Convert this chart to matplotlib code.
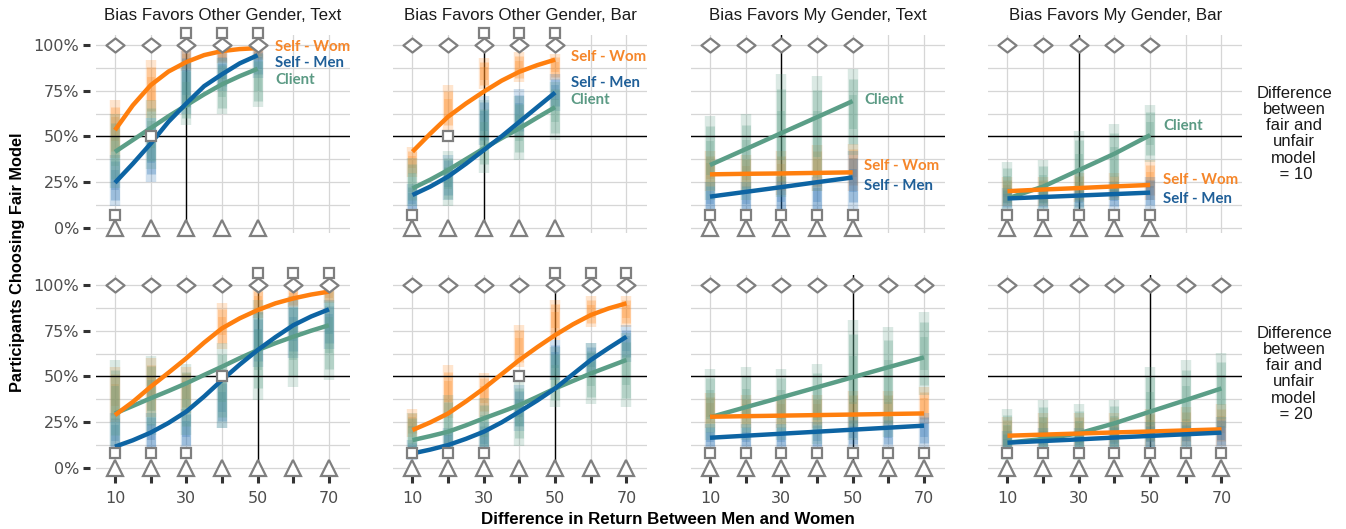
import matplotlib
matplotlib.use("Agg")
import matplotlib.pyplot as plt
from matplotlib.path import Path

# ---------------- data ----------------
PANEL_TITLES = ["Bias Favors Other Gender, Text", "Bias Favors Other Gender, Bar",
                "Bias Favors My Gender, Text", "Bias Favors My Gender, Bar"]
ROW_LABELS = ["Difference\nbetween\nfair and\nunfair\nmodel\n = 10",
              "Difference\nbetween\nfair and\nunfair\nmodel\n = 20"]
SERIES = ["Self - Wom", "Self - Men", "Client"]
X_ROW = [[10, 20, 30, 40, 50], [10, 20, 30, 40, 50, 60, 70]]
X_TICKS = [10, 30, 50, 70]
Y_TICKS = [0, 25, 50, 75, 100]
Y_TICK_LABELS = ["0%", "25%", "50%", "75%", "100%"]
VLINE_X = [30, 50]          # per row
HLINE_Y = 50

# jittered point clouds: (low, high) per x for each series, per panel [row][col]
CLOUD_WOM = [
    [[(38, 70), (60, 92), (86, 99), (90, 99), (92, 99)],
     [(28, 44), (53, 78), (76, 93), (80, 96), (81, 95)],
     [(20, 42), (20, 40), (18, 42), (20, 45), (20, 46)],
     [(12, 28), (12, 28), (14, 30), (15, 30), (15, 37)]],
    [[(25, 55), (28, 60), (30, 55), (65, 90), (82, 99), (88, 99), (90, 99)],
     [(17, 32), (27, 56), (28, 52), (55, 78), (70, 92), (77, 94), (77, 94)],
     [(22, 41), (22, 40), (22, 40), (22, 40), (22, 42), (22, 42), (24, 44)],
     [(10, 28), (12, 30), (12, 30), (12, 30), (12, 32), (12, 33), (12, 35)]],
]
CLOUD_MEN = [
    [[(12, 40), (25, 60), (62, 97), (75, 96), (82, 98)],
     [(8, 24), (15, 40), (45, 72), (50, 76), (64, 84)],
     [(8, 25), (8, 25), (8, 28), (8, 28), (10, 42)],
     [(10, 22), (10, 22), (10, 22), (10, 25), (10, 28)]],
    [[(8, 30), (9, 30), (10, 32), (22, 50), (55, 85), (60, 92), (65, 92)],
     [(4, 15), (8, 22), (8, 25), (20, 45), (48, 70), (50, 68), (58, 78)],
     [(10, 24), (10, 24), (10, 24), (10, 25), (11, 28), (11, 28), (11, 30)],
     [(6, 20), (8, 22), (8, 22), (8, 24), (9, 25), (10, 25), (10, 28)]],
]
CLOUD_CLI = [
    [[(22, 62), (32, 70), (56, 90), (62, 93), (66, 95)],
     [(12, 38), (12, 42), (30, 70), (37, 72), (48, 80)],
     [(15, 61), (15, 62), (17, 84), (20, 83), (40, 87)],
     [(10, 36), (10, 37), (10, 53), (15, 57), (36, 67)]],
    [[(12, 59), (18, 61), (18, 57), (22, 68), (37, 92), (44, 94), (48, 97)],
     [(6, 30), (8, 40), (8, 38), (12, 48), (33, 66), (35, 68), (33, 74)],
     [(15, 54), (15, 55), (15, 54), (13, 57), (15, 81), (17, 77), (40, 85)],
     [(4, 32), (6, 37), (4, 35), (8, 37), (10, 55), (11, 59), (22, 63)]],
]

# fitted model lines (x, y%) per panel [row][col]
FIT_X_FINE = [[10, 15, 20, 25, 30, 35, 40, 45, 50],
              [10, 15, 20, 25, 30, 35, 40, 45, 50, 55, 60, 65, 70]]
FIT_WOM = [
    [[53.4, 67, 78, 85.5, 90.7, 94.5, 96.7, 97.8, 98.3],
     [41.6, 51.5, 60.8, 68, 74.5, 80.5, 85.4, 89, 92],
     [29.2, None, 29.5, None, 29.7, None, 30.0, None, 30.3],
     [20.0, None, 20.9, None, 21.7, None, 22.6, None, 23.4]],
    [[28.8, 36, 44.3, 52, 59.9, 68.5, 76.3, 81.8, 86.3, 90, 92.7, 94.8, 96.4],
     [20.6, 24.8, 29.7, 36.3, 43.4, 51.2, 59, 66, 72.6, 78.5, 83.6, 87.2, 90],
     [27.9, None, 28.2, None, 28.5, None, 28.8, None, 29.1, None, 29.4, None, 29.7],
     [17.5, None, 18.1, None, 18.7, None, 19.3, None, 19.8, None, 20.4, None, 21.0]],
]
FIT_MEN = [
    [[24.6, 35, 46, 58, 68, 77.5, 84, 90, 94.4],
     [17.9, 22.5, 28, 35, 42.5, 50, 58, 66, 74],
     [17.0, None, 19.6, None, 22.2, None, 24.9, None, 27.5],
     [16.0, None, 16.8, None, 17.6, None, 18.4, None, 19.2]],
    [[11.5, 15, 19.2, 24.5, 30.7, 39, 48, 56.5, 64.4, 71.5, 78, 82.8, 86.7],
     [7.8, 9.9, 12.4, 15.8, 19.7, 24.8, 30.7, 36.8, 43.4, 51.2, 59, 65.5, 71.7],
     [16.4, None, 17.5, None, 18.6, None, 19.7, None, 20.8, None, 21.9, None, 23.0],
     [13.7, None, 14.6, None, 15.5, None, 16.5, None, 17.4, None, 18.3, None, 19.2]],
]
FIT_CLI = [
    [[41.5, 48, 54.5, 61, 67, 73, 78.5, 83, 87],
     [21.5, 26.3, 31.6, 37.5, 43.4, 49, 54.4, 60.3, 66],
     [34.3, None, 43.0, None, 51.8, None, 60.5, None, 69.3],
     [16.0, None, 22.5, None, 31.5, None, 40.5, None, 50.7]],
    [[29.7, 33.8, 38, 42, 46.2, 50.8, 55.3, 60, 64.4, 68.2, 71.7, 75, 78],
     [15.1, 17.3, 19.7, 23.2, 27, 30.6, 34.3, 38.8, 43.4, 47.5, 51.6, 55.3, 59],
     [27.6, None, 33.1, None, 38.5, None, 44.0, None, 49.5, None, 55.0, None, 60.4],
     [13.7, None, 15.7, None, 18.8, None, 24.3, None, 30.7, None, 37.0, None, 43.4]],
]

# reference markers
SQUARES = [
    [[7, 50, 106.5, 106.5, 106.5], [7, 50, 106.5, 106.5, 106.5],
     [7, 7, 7, 7, 7], [7, 7, 7, 7, 7]],
    [[8, 8, 8, 50, 106.5, 106.5, 106.5], [8, 8, 8, 50, 106.5, 106.5, 106.5],
     [8] * 7, [8] * 7],
]
DIAMOND_Y = 100
TRIANGLE_Y = 0

# label positions in top row: (x, y) per series per column
LABEL_POS = [
    [(54.9, 99), (54.9, 90), (54.9, 80.7)],
    [(54.4, 93.6), (54.4, 79), (54.4, 69.9)],
    [(53.2, 34), (53.2, 23), (53.2, 69.9)],
    [(53.6, 26), (53.6, 15.7), (53.6, 55.6)],
]

# ---------------- style ----------------
C_WOM, C_MEN, C_CLI = "#ff7f0e", "#0d64a3", "#5b9e87"
PT_WOM, PT_MEN, PT_CLI = "#ff8a20", "#2a72b5", "#5b9e87"
LBL_COL = ["#f5862a", "#1f5f98", "#5b9a84"]
GREY = "#7f7f7f"
GRID = "#d6d6d6"
TXT = "#4d4d4d"

W, H = 1346, 529
fig = plt.figure(figsize=(W / 100, H / 100), dpi=100)

col_left = [95.7, 393.2, 690.7, 988.2]
pan_w = 254.0
row_top = [35.0, 275.0]
pan_h = 197.8
XLIM = (4.6, 4.6 + pan_w / 3.567)
YLIM = (-2.8, -2.8 + pan_h / 1.8264)

diamond = Path([(-1, 0), (0, 0.78), (1, 0), (0, -0.78), (-1, 0)],
               [Path.MOVETO, Path.LINETO, Path.LINETO, Path.LINETO, Path.CLOSEPOLY])


def clean(xs, ys):
    pts = [(x, y) for x, y in zip(xs, ys) if y is not None]
    return [p[0] for p in pts], [p[1] for p in pts]


for r in range(2):
    xs = X_ROW[r]
    for c in range(4):
        ax = fig.add_axes([col_left[c] / W, 1 - (row_top[r] + pan_h) / H, pan_w / W, pan_h / H])
        ax.set_xlim(*XLIM)
        ax.set_ylim(*YLIM)
        for s in ax.spines.values():
            s.set_visible(False)
        ax.set_facecolor("white")
        # grid
        ax.set_xticks(X_TICKS)
        ax.set_xticks([20, 40, 60], minor=True)
        ax.set_yticks(Y_TICKS)
        ax.set_yticks([12.5, 37.5, 62.5, 87.5], minor=True)
        ax.grid(True, which="both", color=GRID, lw=0.9, zorder=0)
        ax.set_axisbelow(True)

        # ticks
        ax.spines["left"].set_position(("outward", 4))
        ax.spines["bottom"].set_position(("outward", 2))
        if c == 0:
            ax.set_yticklabels(Y_TICK_LABELS)
            ax.tick_params(axis="y", which="major", length=5, width=2.2, color="#333333",
                           labelsize=11.5, labelcolor=TXT, pad=3)
        else:
            ax.tick_params(axis="y", which="major", length=0, labelleft=False)
        ax.tick_params(axis="y", which="minor", length=0)
        if r == 1:
            ax.set_xticklabels([str(v) for v in X_TICKS])
            ax.tick_params(axis="x", which="both", length=5, width=2.2, color="#333333",
                           labelsize=11.5, labelcolor=TXT, pad=6)
            ax.tick_params(axis="x", which="minor", labelbottom=False)
        else:
            ax.tick_params(axis="x", which="both", length=0, labelbottom=False)

        # reference lines
        ax.axvline(VLINE_X[r], color="black", lw=1.0, zorder=1.5)
        ax.axhline(HLINE_Y, color="black", lw=1.0, zorder=2.6)

        # point clouds
        for cloud, col in ((CLOUD_WOM, PT_WOM), (CLOUD_MEN, PT_MEN), (CLOUD_CLI, PT_CLI)):
            rng = cloud[r][c]
            lo = [a for a, b in rng]
            hi = [b for a, b in rng]
            span = [b - a for a, b in rng]
            ax.vlines(xs, lo, hi, colors=col, lw=7.5, alpha=0.22, zorder=2)
            ax.vlines(xs, [a + 0.12 * s for a, s in zip(lo, span)],
                      [b - 0.12 * s for b, s in zip(hi, span)],
                      colors=col, lw=6.5, alpha=0.3, zorder=2)
            ax.vlines(xs, [a + 0.3 * s for a, s in zip(lo, span)],
                      [b - 0.3 * s for b, s in zip(hi, span)],
                      colors=col, lw=5.5, alpha=0.25, zorder=2)

        # fitted lines
        fx = FIT_X_FINE[r]
        for fit, col, z in ((FIT_CLI, C_CLI, 3), (FIT_WOM, C_WOM, 3.1), (FIT_MEN, C_MEN, 3.2)):
            px, py = clean(fx, fit[r][c])
            ax.plot(px, py, color=col, lw=3.2, solid_capstyle="butt", zorder=z)

        # markers
        ax.plot(xs, [DIAMOND_Y] * len(xs), ls="none", marker=diamond, ms=13, mfc="white",
                mec=GREY, mew=1.6, zorder=5, clip_on=False)
        ax.plot(xs, [TRIANGLE_Y] * len(xs), ls="none", marker="^", ms=11.5, mfc="white",
                mec=GREY, mew=1.6, zorder=5, clip_on=False)
        ax.plot(xs, SQUARES[r][c], ls="none", marker="s", ms=7.5, mfc="white",
                mec=GREY, mew=1.6, zorder=6, clip_on=False)

        # labels
        if r == 0:
            for k, name in enumerate(SERIES):
                lx, ly = LABEL_POS[c][k]
                ax.text(lx, ly, name, color=LBL_COL[k], fontsize=10.8, fontweight="bold",
                        family="Lato", ha="left", va="center", zorder=7)
            ax.set_title(PANEL_TITLES[c], fontsize=12.2, color="#1a1a1a",
                         family="Liberation Sans", pad=11)

# row strip labels
for r in range(2):
    yc = row_top[r] + pan_h / 2
    fig.text(1294 / W, 1 - yc / H, ROW_LABELS[r], ha="center", va="center",
             fontsize=12, color="#1a1a1a", family="Liberation Sans", linespacing=1.1)

fig.text(18 / W, 1 - 262 / H, "Participants Choosing Fair Model", rotation=90,
         ha="center", va="center", fontsize=11.8, fontweight="bold", family="Liberation Sans")
fig.text(668 / W, 1 - 520 / H, "Difference in Return Between Men and Women",
         ha="center", va="center", fontsize=12.2, fontweight="bold", family="Liberation Sans")

fig.savefig("out.png", dpi=100)
